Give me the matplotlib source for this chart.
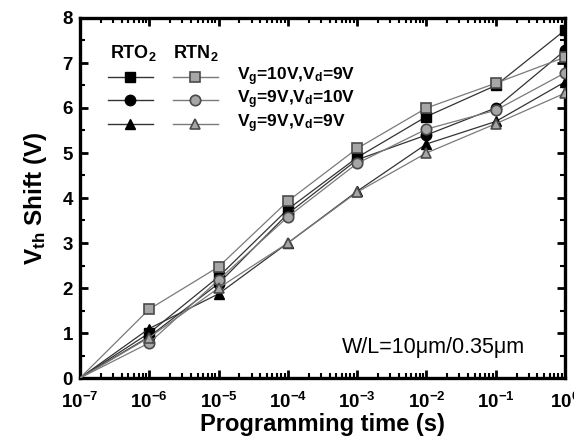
import matplotlib
matplotlib.use("Agg")
import matplotlib.pyplot as plt
from matplotlib.lines import Line2D
from matplotlib.ticker import LogLocator, NullFormatter, MultipleLocator

plt.rcParams['font.family'] = ['Liberation Sans', 'DejaVu Sans']
plt.rcParams['mathtext.fontset'] = 'custom'
plt.rcParams['mathtext.bf'] = 'Liberation Sans:bold'
plt.rcParams['mathtext.rm'] = 'Liberation Sans:bold'
plt.rcParams['mathtext.it'] = 'Liberation Sans:bold'
plt.rcParams['mathtext.default'] = 'bf'

# Data
time = [1e-7, 1e-6, 1e-5, 1e-4, 1e-3, 1e-2, 1e-1, 1e0]
rto2_10_9 = [0, 1.00, 2.25, 3.75, 4.90, 5.81, 6.50, 7.73]
rto2_9_10 = [0, 0.92, 2.10, 3.65, 4.85, 5.40, 6.00, 7.28]
rto2_9_9 = [0, 1.10, 1.87, 3.00, 4.15, 5.20, 5.70, 6.58]
rtn2_10_9 = [0, 1.53, 2.47, 3.93, 5.10, 6.00, 6.55, 7.13]
rtn2_9_10 = [0, 0.78, 2.18, 3.58, 4.77, 5.53, 5.95, 6.78]
rtn2_9_9 = [0, 0.90, 2.00, 3.00, 4.13, 5.00, 5.65, 6.33]

cond_labels = [r"V$_g$=10V,V$_d$=9V", r"V$_g$=9V,V$_d$=10V", r"V$_g$=9V,V$_d$=9V"]
xtick_vals = [1e-7, 1e-6, 1e-5, 1e-4, 1e-3, 1e-2, 1e-1, 1e0]
xtick_labels = [r"10$^{-7}$", r"10$^{-6}$", r"10$^{-5}$", r"10$^{-4}$",
                r"10$^{-3}$", r"10$^{-2}$", r"10$^{-1}$", r"10$^{0}$"]

fig = plt.figure(figsize=(5.74, 4.4), dpi=100)
ax = fig.add_axes([80/574, 1-378/440, 485/574, 360/440])

markers = ['s', 'o', '^']
black_fc = 'black'
gray_fc = '#a6a6a6'
gray_ec = '#4a4a4a'
rto_series = [rto2_10_9, rto2_9_10, rto2_9_9]
rtn_series = [rtn2_10_9, rtn2_9_10, rtn2_9_9]

for ser, m in zip(rtn_series, markers):
    ax.plot(time, ser, color='#7a7a7a', lw=0.9, marker=m, ms=7.5,
            mfc=gray_fc, mec=gray_ec, mew=1.2, markevery=slice(1, None),
            zorder=3)
for ser, m in zip(rto_series, markers):
    ax.plot(time, ser, color='#333333', lw=0.9, marker=m, ms=7.5,
            mfc=black_fc, mec='black', markevery=slice(1, None), zorder=2)

ax.set_xscale('log')
ax.set_xlim(1e-7, 1e0)
ax.set_ylim(0, 8)
ax.set_xticks(xtick_vals)
ax.set_xticklabels(xtick_labels)
ax.xaxis.set_minor_locator(LogLocator(base=10, subs=range(2, 10), numticks=20))
ax.xaxis.set_minor_formatter(NullFormatter())
ax.yaxis.set_major_locator(MultipleLocator(1))
ax.yaxis.set_minor_locator(MultipleLocator(0.5))

for sp in ax.spines.values():
    sp.set_linewidth(2.4)
ax.tick_params(which='major', direction='in', length=6, width=2, top=True, right=True,
               labelsize=13.5)
ax.tick_params(axis='x', which='major', pad=10)
ax.tick_params(axis='y', which='major', pad=5)
ax.tick_params(which='minor', direction='in', length=3.5, width=1.5, top=True, right=True)
for lab in ax.get_yticklabels():
    lab.set_fontweight('bold')
for lab in ax.get_xticklabels():
    lab.set_fontweight('bold')

ax.set_xlabel("Programming time (s)", fontsize=17, fontweight='bold', labelpad=1)
ax.set_ylabel(r"V$_{th}$ Shift (V)", fontsize=17.5, fontweight='bold', labelpad=10)

# custom legend
rows_y = [0.836, 0.772, 0.706]
for (x0, x1, xm, fc, ec, lc) in [(0.058, 0.150, 0.103, black_fc, 'black', '#333333'),
                                 (0.192, 0.285, 0.237, gray_fc, gray_ec, '#7a7a7a')]:
    for y, m in zip(rows_y, markers):
        ax.add_line(Line2D([x0, x1], [y, y], color=lc, lw=1.0, transform=ax.transAxes))
        ax.add_line(Line2D([xm], [y], marker=m, ms=7.5, mfc=fc, mec=ec,
                           mew=1.2 if fc != black_fc else 1.0, transform=ax.transAxes))
ax.text(0.109, 0.903, r"RTO$_2$", transform=ax.transAxes, ha='center', va='center',
        fontsize=13, fontweight='bold')
ax.text(0.239, 0.903, r"RTN$_2$", transform=ax.transAxes, ha='center', va='center',
        fontsize=13, fontweight='bold')
for y, lab in zip(rows_y, cond_labels):
    ax.text(0.324, y, lab, transform=ax.transAxes, ha='left', va='center',
            fontsize=12.5, fontweight='bold')

ax.text(0.729, 0.086, "W/L=10μm/0.35μm", transform=ax.transAxes, ha='center',
        va='center', fontsize=15.5)

fig.savefig("out.png", dpi=100)
